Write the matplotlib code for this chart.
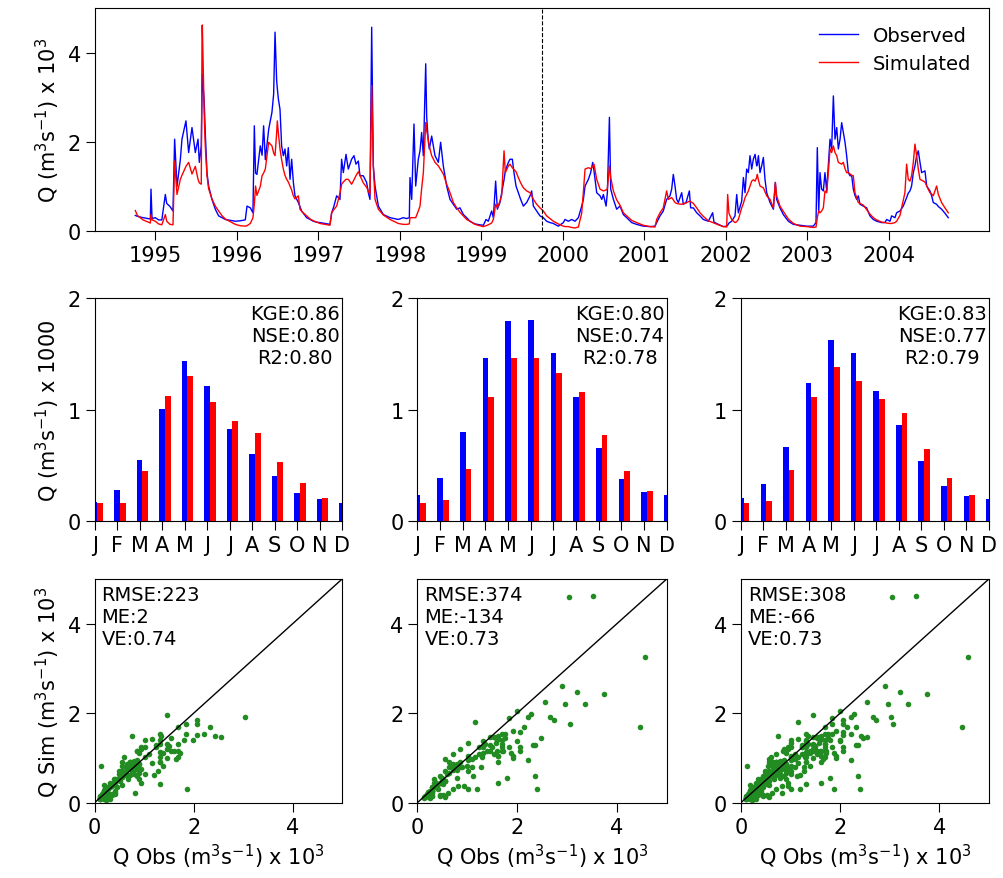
import matplotlib.pyplot as plt
import numpy as np

# daily discharge (decimal year, x 10^3 m3/s)
t_year = [
    1994.755, 1994.78, 1994.85, 1994.939, 1994.947, 1994.96, 1995.0, 1995.04, 1995.08, 1995.123,
    1995.14, 1995.18, 1995.217, 1995.237, 1995.266, 1995.307, 1995.327, 1995.376, 1995.409, 1995.450,
    1995.491, 1995.524, 1995.540, 1995.564, 1995.574, 1995.577, 1995.60, 1995.613, 1995.634, 1995.654,
    1995.695, 1995.736, 1995.777, 1995.82, 1995.859, 1995.92, 1995.982, 1996.04, 1996.104, 1996.125,
    1996.166, 1996.198, 1996.215, 1996.23, 1996.247, 1996.288, 1996.31, 1996.329, 1996.35, 1996.391,
    1996.431, 1996.452, 1996.469, 1996.489, 1996.497, 1996.510, 1996.530, 1996.550, 1996.571, 1996.591,
    1996.612, 1996.632, 1996.653, 1996.673, 1996.694, 1996.714, 1996.755, 1996.775, 1996.796, 1996.857,
    1996.90, 1996.939, 1996.980, 1997.021, 1997.08, 1997.143, 1997.164, 1997.19, 1997.225, 1997.266,
    1997.286, 1997.307, 1997.340, 1997.368, 1997.409, 1997.438, 1997.462, 1997.491, 1997.511, 1997.552,
    1997.593, 1997.614, 1997.634, 1997.655, 1997.675, 1997.696, 1997.737, 1997.798, 1997.880, 1997.982,
    1998.043, 1998.084, 1998.117, 1998.125, 1998.146, 1998.174, 1998.195, 1998.227, 1998.248, 1998.268,
    1998.289, 1998.318, 1998.330, 1998.350, 1998.362, 1998.391, 1998.432, 1998.473, 1998.501, 1998.534,
    1998.575, 1998.616, 1998.657, 1998.698, 1998.739, 1998.780, 1998.820, 1998.861, 1998.923, 1998.98,
    1999.025, 1999.058, 1999.086, 1999.127, 1999.148, 1999.176, 1999.197, 1999.229, 1999.250, 1999.279,
    1999.295, 1999.332, 1999.352, 1999.381, 1999.401, 1999.426, 1999.454, 1999.483, 1999.516, 1999.557,
    1999.598, 1999.618, 1999.639, 1999.680, 1999.720,
    1999.761, 1999.802, 1999.843, 1999.884, 1999.945, 2000.007, 2000.027, 2000.068, 2000.109, 2000.150,
    2000.191, 2000.232, 2000.252, 2000.273, 2000.314, 2000.342, 2000.367, 2000.383, 2000.416, 2000.457,
    2000.478, 2000.498, 2000.531, 2000.547, 2000.572, 2000.588, 2000.621, 2000.661, 2000.702, 2000.743,
    2000.784, 2000.845, 2000.906, 2000.988, 2001.070, 2001.131, 2001.152, 2001.193, 2001.233, 2001.274,
    2001.295, 2001.315, 2001.336, 2001.356, 2001.377, 2001.397, 2001.418, 2001.459, 2001.479, 2001.512,
    2001.553, 2001.569, 2001.602, 2001.643, 2001.684, 2001.724, 2001.786, 2001.839, 2001.855, 2001.909,
    2001.970, 2002.011, 2002.023, 2002.039, 2002.072, 2002.113, 2002.134, 2002.154, 2002.195, 2002.216,
    2002.236, 2002.256, 2002.277, 2002.297, 2002.318, 2002.338, 2002.359, 2002.379, 2002.387, 2002.400,
    2002.420, 2002.440, 2002.461, 2002.481, 2002.502, 2002.543, 2002.584, 2002.608, 2002.624, 2002.665,
    2002.706, 2002.768, 2002.829, 2002.911, 2002.993, 2003.074, 2003.107, 2003.123, 2003.140, 2003.156,
    2003.176, 2003.197, 2003.217, 2003.238, 2003.258, 2003.279, 2003.299, 2003.320, 2003.340, 2003.361,
    2003.381, 2003.402, 2003.422, 2003.442, 2003.463, 2003.483, 2003.504, 2003.524, 2003.545, 2003.565,
    2003.585, 2003.606, 2003.626, 2003.647, 2003.688, 2003.728, 2003.769, 2003.810, 2003.851, 2003.912,
    2003.953, 2003.974, 2004.015, 2004.035, 2004.076, 2004.096, 2004.137, 2004.178, 2004.198, 2004.219,
    2004.239, 2004.260, 2004.280, 2004.301, 2004.321, 2004.342, 2004.362, 2004.383, 2004.403, 2004.444,
    2004.465, 2004.505, 2004.526, 2004.546, 2004.587, 2004.608, 2004.648, 2004.689, 2004.730,
]
q_obs = [
    0.35, 0.33, 0.30, 0.27, 0.94, 0.28, 0.30, 0.25, 0.25, 0.82,
    0.62, 0.55, 0.45, 2.06, 1.00, 1.60, 2.06, 2.47, 1.76, 2.32,
    1.76, 2.06, 1.54, 1.91, 3.05, 3.52, 2.90, 2.21, 1.31, 1.01,
    0.71, 0.49, 0.34, 0.30, 0.26, 0.24, 0.22, 0.23, 0.25, 0.56,
    0.52, 0.41, 2.36, 1.30, 1.27, 1.91, 1.70, 2.36, 1.60, 2.28,
    2.66, 3.07, 4.46, 3.37, 3.20, 2.96, 2.73, 1.91, 1.69, 1.84,
    1.46, 1.87, 1.16, 1.61, 1.09, 0.79, 0.64, 0.55, 0.45, 0.30,
    0.26, 0.22, 0.20, 0.19, 0.17, 0.15, 0.41, 0.55, 0.79, 0.71,
    1.61, 1.31, 1.72, 1.39, 1.61, 1.69, 1.50, 1.57, 1.24, 1.24,
    1.09, 0.86, 0.71, 4.57, 1.46, 1.01, 0.56, 0.37, 0.30, 0.26,
    0.30, 0.28, 0.30, 1.20, 0.71, 2.40, 1.01, 1.61, 1.80, 2.21,
    1.69, 3.75, 2.55, 2.00, 1.84, 2.13, 1.69, 1.54, 1.99, 1.46,
    1.01, 0.71, 0.60, 0.49, 0.52, 0.37, 0.30, 0.22, 0.16, 0.14,
    0.13, 0.26, 0.22, 0.45, 0.30, 1.12, 0.49, 0.64, 0.86, 1.15,
    1.35, 1.54, 1.61, 1.61, 1.31, 1.01, 0.86, 0.71, 0.56, 0.64,
    0.79, 0.90, 0.56, 0.45, 0.34,
    0.30, 0.22, 0.19, 0.17, 0.11, 0.19, 0.26, 0.22, 0.26, 0.22,
    0.30, 0.56, 0.70, 1.01, 1.16, 1.31, 1.54, 1.35, 0.86, 0.79,
    0.71, 0.82, 0.56, 0.86, 2.55, 0.94, 0.71, 0.49, 0.56, 0.37,
    0.30, 0.19, 0.15, 0.11, 0.10, 0.11, 0.19, 0.34, 0.45, 0.71,
    0.75, 0.79, 0.94, 1.27, 1.01, 0.71, 0.64, 0.86, 0.60, 0.64,
    0.90, 0.52, 0.52, 0.41, 0.34, 0.26, 0.22, 0.41, 0.20, 0.15,
    0.10, 0.11, 0.13, 0.18, 0.22, 0.34, 0.82, 0.41, 0.67, 1.20,
    0.86, 1.39, 1.31, 1.69, 1.39, 1.61, 1.72, 1.46, 1.50, 1.69,
    1.31, 1.46, 1.65, 1.16, 0.86, 0.64, 0.49, 1.09, 0.71, 0.52,
    0.37, 0.22, 0.15, 0.13, 0.11, 0.11, 0.19, 1.87, 0.41, 1.31,
    0.94, 0.90, 1.31, 0.90, 1.46, 2.06, 1.84, 3.03, 2.06, 2.32,
    1.84, 2.06, 2.43, 2.21, 1.99, 1.69, 1.31, 1.24, 1.24, 0.94,
    0.80, 0.71, 0.79, 0.60, 0.56, 0.52, 0.34, 0.26, 0.22, 0.19,
    0.19, 0.26, 0.22, 0.34, 0.30, 0.41, 0.45, 0.56, 0.65, 0.75,
    0.85, 0.90, 1.01, 1.31, 1.46, 1.69, 1.80, 1.54, 1.31, 1.35,
    1.01, 0.90, 0.79, 0.64, 0.60, 0.55, 0.49, 0.40, 0.30,
]
q_sim = [
    0.46, 0.35, 0.25, 0.18, 0.37, 0.25, 0.22, 0.16, 0.14, 0.37,
    0.22, 0.15, 0.14, 1.57, 0.82, 1.16, 1.25, 1.45, 1.54, 1.28,
    1.45, 1.16, 1.08, 1.05, 4.60, 4.62, 2.60, 1.91, 1.24, 0.95,
    0.72, 0.56, 0.45, 0.34, 0.27, 0.21, 0.15, 0.12, 0.11, 0.12,
    0.17, 0.30, 0.60, 1.01, 0.80, 1.00, 1.24, 1.30, 1.39, 1.99,
    1.91, 1.75, 1.69, 2.20, 2.47, 2.20, 1.84, 1.60, 1.39, 1.25,
    1.16, 1.10, 1.01, 0.92, 0.79, 0.72, 0.79, 0.49, 0.44, 0.34,
    0.27, 0.23, 0.20, 0.17, 0.15, 0.13, 0.41, 0.48, 0.56, 0.85,
    1.05, 1.10, 1.16, 1.16, 1.05, 1.15, 1.24, 1.33, 1.25, 1.08,
    0.98, 0.90, 0.82, 3.26, 1.46, 0.71, 0.49, 0.36, 0.26, 0.17,
    0.15, 0.15, 0.16, 0.30, 0.30, 0.30, 0.30, 0.45, 0.56, 0.95,
    1.31, 2.43, 2.25, 2.06, 1.90, 1.69, 1.54, 1.46, 1.38, 1.28,
    1.05, 0.86, 0.64, 0.52, 0.42, 0.34, 0.26, 0.22, 0.15, 0.12,
    0.10, 0.12, 0.14, 0.18, 0.26, 0.60, 0.52, 0.67, 0.80, 1.80,
    1.31, 1.46, 1.50, 1.42, 1.38, 1.33, 1.20, 1.08, 0.97, 0.90,
    0.86, 0.80, 0.71, 0.60, 0.52,
    0.45, 0.34, 0.28, 0.22, 0.16, 0.11, 0.10, 0.10, 0.08, 0.07,
    0.09, 0.40, 0.86, 1.39, 1.42, 1.40, 1.45, 1.50, 1.16, 0.94,
    0.92, 0.90, 0.92, 0.95, 1.46, 1.20, 0.90, 0.70, 0.58, 0.41,
    0.34, 0.24, 0.19, 0.13, 0.10, 0.09, 0.26, 0.41, 0.52, 0.90,
    0.71, 0.73, 0.75, 0.70, 0.64, 0.62, 0.61, 0.60, 0.61, 0.63,
    0.67, 0.66, 0.62, 0.52, 0.41, 0.33, 0.23, 0.19, 0.18, 0.14,
    0.10, 0.09, 0.82, 0.40, 0.26, 0.19, 0.21, 0.26, 0.52, 0.62,
    0.75, 0.82, 0.90, 1.01, 1.12, 1.15, 1.12, 1.20, 1.27, 1.15,
    1.01, 0.99, 0.97, 0.88, 0.79, 0.71, 0.52, 1.09, 0.79, 0.56,
    0.44, 0.27, 0.17, 0.11, 0.10, 0.08, 0.09, 0.30, 0.45, 0.41,
    0.45, 0.52, 0.90, 0.86, 1.31, 1.84, 1.76, 1.91, 1.76, 1.69,
    1.54, 1.52, 1.50, 1.54, 1.40, 1.31, 1.31, 1.28, 1.25, 1.24,
    0.86, 0.75, 0.64, 0.62, 0.58, 0.48, 0.38, 0.30, 0.25, 0.20,
    0.19, 0.18, 0.17, 0.17, 0.19, 0.22, 0.35, 0.70, 0.86, 1.50,
    1.16, 1.12, 1.24, 1.54, 1.95, 1.69, 1.39, 1.16, 1.14, 1.10,
    1.01, 0.86, 0.83, 0.79, 1.01, 0.82, 0.64, 0.52, 0.41,
]
split_year = 1999.75
year_ticks = list(range(1995, 2005))

# monthly means (x 1000 m3/s): validation, calibration, whole period
months = ["J", "F", "M", "A", "M", "J", "J", "A", "S", "O", "N", "D"]
mon_obs = [
    [0.17, 0.28, 0.55, 1.01, 1.44, 1.21, 0.83, 0.60, 0.41, 0.25, 0.20, 0.16],
    [0.24, 0.39, 0.80, 1.46, 1.79, 1.80, 1.51, 1.11, 0.66, 0.38, 0.26, 0.24],
    [0.21, 0.33, 0.67, 1.24, 1.62, 1.51, 1.17, 0.86, 0.54, 0.32, 0.23, 0.20],
]
mon_sim = [
    [0.16, 0.16, 0.45, 1.12, 1.30, 1.07, 0.90, 0.79, 0.53, 0.34, 0.21, 0.17],
    [0.16, 0.19, 0.47, 1.11, 1.46, 1.46, 1.33, 1.16, 0.77, 0.45, 0.27, 0.20],
    [0.16, 0.18, 0.46, 1.11, 1.38, 1.26, 1.10, 0.97, 0.65, 0.39, 0.24, 0.18],
]
fit_txt = ["KGE:0.86\nNSE:0.80\nR2:0.80",
           "KGE:0.80\nNSE:0.74\nR2:0.78",
           "KGE:0.83\nNSE:0.77\nR2:0.79"]
err_txt = ["RMSE:223\nME:2\nVE:0.74",
           "RMSE:374\nME:-134\nVE:0.73",
           "RMSE:308\nME:-66\nVE:0.73"]

t = np.array(t_year)
obs = np.array(q_obs)
sim = np.array(q_sim)
periods = [t >= split_year, t < split_year, np.ones(len(t), dtype=bool)]

plt.rcParams["xtick.major.size"] = 6.5
plt.rcParams["ytick.major.size"] = 6.5
plt.rcParams["xtick.labelsize"] = 15
plt.rcParams["ytick.labelsize"] = 15

fig = plt.figure(figsize=(10.04, 8.79), dpi=100)

# ---- hydrograph ----
ax = fig.add_axes([0.0943, 0.736, 0.8907, 0.2537])
ax.plot(t, obs, color="blue", linewidth=1, label="Observed")
ax.plot(t, sim, color="red", linewidth=1, label="Simulated")
ax.axvline(split_year, color="black", linestyle="--", linewidth=0.8)
ax.set_xlim(1994.256, 2005.229)
ax.set_ylim(0, 5)
ax.set_xticks(year_ticks)
ax.set_yticks([0, 2, 4])
ax.set_ylabel("Q (m$^3$s$^{-1}$) x 10$^3$", fontsize=15)
ax.legend(loc="upper right", frameon=False, fontsize=14)

xs = [0.0943, 0.4157, 0.7380]
ws = [0.2465, 0.2484, 0.2470]
mpos = np.arange(1, 13)

for i in range(3):
    # ---- monthly bars ----
    ab = fig.add_axes([xs[i], 0.4058, ws[i], 0.254])
    ab.bar(mpos, mon_obs[i], width=0.25, color="blue")
    ab.bar(mpos + 0.25, mon_sim[i], width=0.25, color="red")
    ab.set_xlim(1, 12)
    ab.set_ylim(0, 2)
    ab.set_xticks(mpos)
    ab.set_xticklabels(months)
    ab.set_yticks([0, 1, 2])
    ab.text(0.992, 0.975, fit_txt[i], transform=ab.transAxes, ha="right", va="top",
            multialignment="center", fontsize=14)
    if i == 0:
        ab.set_ylabel("Q (m$^3$s$^{-1}$) x 1000", fontsize=15)

    # ---- scatter ----
    sc = fig.add_axes([xs[i], 0.0857, ws[i], 0.2545])
    m = periods[i]
    sc.scatter(obs[m], sim[m], s=16, color="forestgreen", linewidths=0)
    sc.plot([0, 5], [0, 5], color="black", linewidth=1)
    sc.set_xlim(0, 5)
    sc.set_ylim(0, 5)
    sc.set_xticks([0, 2, 4])
    sc.set_yticks([0, 2, 4])
    sc.text(0.028, 0.975, err_txt[i], transform=sc.transAxes, ha="left", va="top", fontsize=14)
    sc.set_xlabel("Q Obs (m$^3$s$^{-1}$) x 10$^3$", fontsize=15)
    if i == 0:
        sc.set_ylabel("Q Sim (m$^3$s$^{-1}$) x 10$^3$", fontsize=15)

fig.savefig("out.png", dpi=100)
